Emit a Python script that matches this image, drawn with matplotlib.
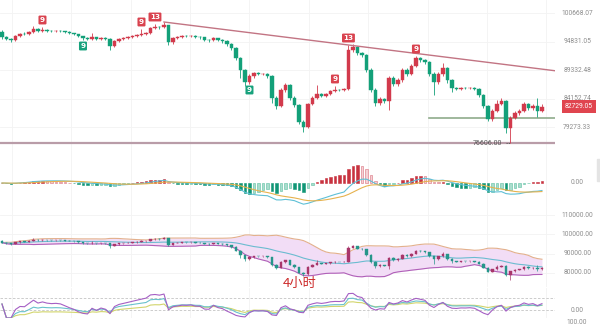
import numpy as np
import pandas as pd
import matplotlib
matplotlib.use("Agg")
import matplotlib.pyplot as plt
import matplotlib.transforms as mtransforms
from matplotlib.patches import Rectangle

# BTC 4h bars, oldest first; every bar opens at the previous close
first_open = 96739
closes = [95731, 95331, 95131, 95932, 96335, 96280, 96739, 97349, 96942, 97145,
          96990, 96930, 96960, 96910, 96739, 96537, 96335, 95932, 95531, 95331,
          95731, 95331, 95531, 95331, 93943, 94932, 95331, 95531, 95731, 95932,
          96133, 96335, 96537, 97553, 97758, 97700, 98168, 94733, 95531, 95731,
          95932, 95900, 95960, 95731, 95700, 95131, 95090, 95531, 95131, 94932,
          94337, 93550, 91610, 89336, 87118, 88220, 88776, 88590, 88620, 88220,
          84246, 82846, 85670, 86572, 84246, 83020, 80116, 79281, 83194, 84246,
          84955, 84600, 84955, 85491, 85670, 85640, 85850, 93159, 93746, 92575,
          92188, 89336, 85670, 83368, 84070, 83718, 87851, 86754, 87484, 89336,
          88590, 90088, 91610, 91227, 90846, 88590, 87118, 88590, 89711, 87484,
          86030, 85850, 86030, 85990, 86060, 85850, 84777, 82846, 80621, 81983,
          83194, 83718, 79115, 80790, 81640, 81983, 83194, 82500, 82846, 81983,
          82729.05]
highs = [97145, 95932, 95531, 96133, 96537, 96739, 96942, 97963, 97553, 97758,
         97349, 97145, 97145, 97145, 96942, 96942, 96537, 96335, 95932, 95731,
         96537, 95731, 95731, 95731, 95531, 95131, 95531, 95731, 95932, 96133,
         96335, 97349, 96739, 97758, 98374, 97963, 98787, 98168, 95731, 95932,
         96133, 96133, 96133, 96133, 95932, 95731, 95331, 95731, 95531, 95331,
         95131, 94535, 93746, 91802, 89523, 88590, 88962, 88962, 88776, 88776,
         88405, 84600, 86030, 86936, 86754, 84600, 83194, 80452, 83368, 84600,
         86572, 85133, 85133, 85670, 86391, 85850, 86030, 94140, 94337, 93943,
         92769, 92381, 89711, 86030, 84423, 84246, 88220, 88220, 87851, 89711,
         89711, 90466, 91995, 91802, 91418, 91036, 88962, 88962, 90656, 89899,
         87667, 86210, 86210, 86210, 86210, 86210, 86030, 84955, 83020, 82327,
         83894, 84246, 83894, 81129, 81983, 82327, 83543, 83368, 83194, 84246,
         83194]
lows = [95331, 95131, 94733, 94932, 95731, 96133, 96133, 96537, 96739, 96739,
        96739, 96739, 96739, 96739, 96537, 96335, 96133, 95731, 95131, 95131,
        95131, 95131, 95131, 95131, 93159, 93746, 94733, 95131, 95331, 95531,
        95731, 95932, 96133, 96335, 97349, 97349, 97553, 94140, 94337, 95331,
        95531, 95731, 95731, 95531, 95331, 94932, 94733, 94932, 94932, 94535,
        93943, 93159, 91227, 87851, 86391, 86754, 87851, 88405, 88405, 87851,
        83368, 82327, 82673, 85312, 83894, 82673, 79781, 78455, 79115, 83020,
        84070, 84423, 84423, 84777, 85312, 85491, 85491, 85670, 92769, 92188,
        91802, 88962, 85312, 82846, 83020, 83368, 82155, 86391, 86391, 87118,
        88220, 88405, 89899, 90846, 90466, 88220, 84777, 86754, 88220, 86936,
        85312, 85670, 85670, 85850, 85850, 85670, 84423, 82500, 80284, 80284,
        81811, 83020, 78291, 76606, 80621, 81299, 81811, 82155, 82155, 80959,
        81811]

# TD sequential counts: (bar, count, side)
td_marks = [(9, "9", "up"), (18, "9", "down"), (31, "9", "up"), (34, "13", "up"),
            (55, "9", "down"), (74, "9", "up"), (77, "13", "up"), (92, "9", "up")]

price_ticks = [100668.07, 94831.05, 89332.48, 84152.74, 79273.33]
boll_ticks = [110000, 100000, 90000, 80000]
support_level = 80800
support_start = 95
trend_bars = (36, 77)
period_label = "4小时"

RED, GREEN = "#d23a4c", "#13a079"
LABEL = dict(fontsize=4.8, color="#8c8c8c", family="Roboto")

opens = [first_open] + closes[:-1]
df = pd.DataFrame({"open": opens, "high": highs, "low": lows, "close": closes})
df["high"] = df[["open", "high", "close"]].max(axis=1)
df["low"] = df[["open", "low", "close"]].min(axis=1)
x = np.arange(len(df))
rising = (df["close"] >= df["open"]).values
c = df["close"]

W, H = 600, 328
XMAX = 122.9
fig = plt.figure(figsize=(W / 100, H / 100), dpi=100)
fig.patch.set_facecolor("white")


def panel(top, bottom):
    ax = fig.add_axes([0, 1 - bottom / H, 555 / W, (bottom - top) / H])
    ax.set_xlim(-0.44, XMAX)
    for s in ax.spines.values():
        s.set_visible(False)
    ax.xaxis.set_visible(False)
    ax.yaxis.set_visible(False)
    ax.patch.set_alpha(0)
    for gx in np.arange(2.2, 123, 13.2):
        ax.axvline(gx, color="#f3f3f3", lw=0.6, zorder=0)
    return ax


def right_label(ax, value, text=None):
    tr = mtransforms.blended_transform_factory(ax.transAxes, ax.transData)
    ax.text(1.04, value, text or f"{value:.2f}", transform=tr, ha="center",
            va="center", clip_on=False, **LABEL)


def candles(ax, body_w, wick_w, up_col, down_col):
    cols = np.where(rising, up_col, down_col)
    ax.vlines(x, df["low"], df["high"], colors=cols, lw=wick_w, zorder=3)
    body = (df["close"] - df["open"]).abs()
    bottom = df[["open", "close"]].min(axis=1)
    ax.bar(x, body, bottom=bottom, width=body_w, color=cols, edgecolor=cols,
           lw=0.3, zorder=4)


# ---- main price panel (log scale)
ax = panel(0, 150)
ax.set_yscale("log")
ax.set_ylim(75549, 103448)
for v in price_ticks:
    ax.axhline(v, color="#f3f3f3", lw=0.6, zorder=0)
    right_label(ax, v)
candles(ax, 0.7, 0.6, RED, GREEN)

a, b = trend_bars
la, lb = np.log(df["high"][a]), np.log(df["high"][b])
tx = np.array([a, XMAX])
ax.plot(tx, np.exp(la + (lb - la) / (b - a) * (tx - a)), color="#c27483", lw=1.0, zorder=5)

low_bar = int(df["low"].idxmin())
low_val = df["low"][low_bar]
ax.axhline(low_val, color="#b99ca8", lw=1.6, zorder=2)
ax.plot([support_start, XMAX], [support_level] * 2, color="#8fab8b", lw=1.2, zorder=2)
ax.annotate(f"{low_val:.2f}", xy=(low_bar, low_val), xytext=(-8, 0),
            textcoords="offset pixels", ha="right", va="center",
            fontsize=5, color="#555555", family="Roboto", zorder=6)
ax.plot([low_bar - 0.9, low_bar - 0.1], [low_val] * 2, color="#555555",
        lw=0.6, ls=(0, (1.5, 1.2)), zorder=6)

for bar, txt, side in td_marks:
    if side == "up":
        y, dy, fc = df["high"][bar], 7, "#d9434f"
    else:
        y, dy, fc = df["low"][bar], -6, "#17a27c"
    ax.annotate(txt, xy=(bar, y), xytext=(0, dy), textcoords="offset pixels",
                ha="center", va="center", fontsize=5.2, color="white",
                fontweight="bold", family="DejaVu Sans", zorder=7,
                bbox=dict(boxstyle="round,pad=0.2,rounding_size=0.15",
                          fc=fc, ec="none"))

tr = mtransforms.blended_transform_factory(ax.transAxes, ax.transData)
ax.text(1.043, closes[-1], f"{closes[-1]:.2f}", transform=tr, ha="center",
        va="center", fontsize=4.9, color="white", family="Roboto", clip_on=False,
        zorder=8, bbox=dict(boxstyle="square,pad=0.4", fc="#e0454f", ec="none"))

# ---- MACD panel
ema12 = c.ewm(span=12, adjust=False).mean()
ema26 = c.ewm(span=26, adjust=False).mean()
dif = ema12 - ema26
dea = dif.ewm(span=9, adjust=False).mean()
hist = 2 * (dif - dea)

ax = panel(150, 207)
prev = hist.shift(1).fillna(0)
fills, edges = [], []
for h, p in zip(hist, prev):
    if h >= 0:
        fills.append("#c8323f" if h >= p else "#f6d0d5")
        edges.append("#c8323f" if h >= p else "#d9707c")
    else:
        fills.append("#119676" if h <= p else "#a9ddcd")
        edges.append("#119676" if h <= p else "#5cbfa2")
ax.bar(x, hist, width=0.62, color=fills, edgecolor=edges, lw=0.4, zorder=3)
ax.plot(x, dif, color="#5fc0d6", lw=0.8, zorder=4)
ax.plot(x, dea, color="#e6b24e", lw=0.8, zorder=4)
lo = min(dif.min(), dea.min(), hist.min())
hi = max(dif.max(), dea.max(), hist.max())
u = max(hi / 18, -lo / 22)
ax.set_ylim(-24 * u, 33 * u)
right_label(ax, 0)

# ---- Bollinger panel
mid = c.rolling(20, min_periods=1).mean()
sd = c.rolling(20, min_periods=1).std(ddof=0).fillna(0)
upper, lower = mid + 2 * sd, mid - 2 * sd

ax = panel(207, 287)
ax.set_ylim(72746, 114197)
for v in boll_ticks:
    ax.axhline(v, color="#f3f3f3", lw=0.6, zorder=0)
    right_label(ax, v)
ax.fill_between(x, lower, upper, color="#f2ddf6", zorder=1, lw=0)
ax.plot(x, upper, color="#e3b08c", lw=0.8, zorder=2)
ax.plot(x, mid, color="#6bbcd0", lw=0.8, zorder=2)
ax.plot(x, lower, color="#b060b8", lw=0.8, zorder=2)
candles(ax, 0.5, 0.5, "#a8366a", "#26968a")
fig.text(300 / W, 1 - 283 / H, period_label, ha="center", va="center",
         fontsize=9.5, color="#cc2a2a", family=["Noto Sans CJK SC", "DejaVu Sans"])

# ---- RSI panel
def rsi(series, n):
    d = series.diff()
    gain = d.clip(lower=0).ewm(alpha=1 / n, adjust=False).mean()
    loss = (-d.clip(upper=0)).ewm(alpha=1 / n, adjust=False).mean()
    return (100 - 100 / (1 + gain / loss.replace(0, np.nan))).fillna(50)

ax = panel(288, 318)
# 100 sits at y=290 px, 0 at y=318 px
ax.set_ylim(0, 100 + 2 * 100 / 28)
for lvl in (70, 30):
    ax.axhline(lvl, color="#c4c4c4", lw=0.6, ls=(0, (3, 2)), zorder=1)
ax.plot(x, rsi(c, 24), color="#d2d56c", lw=0.8, zorder=2)
ax.plot(x, rsi(c, 12), color="#68c2cc", lw=0.8, zorder=3)
ax.plot(x, rsi(c, 6), color="#a55fc4", lw=0.8, zorder=4)
fig.text(577 / W, 1 - 311 / H, "0.00", ha="center", va="center", **LABEL)
fig.text(577 / W, 1 - 323 / H, "100.00", ha="center", va="center", **LABEL)

fig.patches.append(Rectangle((597 / W, 1 - 181 / H), 3 / W, 22 / H,
                             transform=fig.transFigure, color="#e4e4e4"))

fig.savefig("out.png", dpi=100)
